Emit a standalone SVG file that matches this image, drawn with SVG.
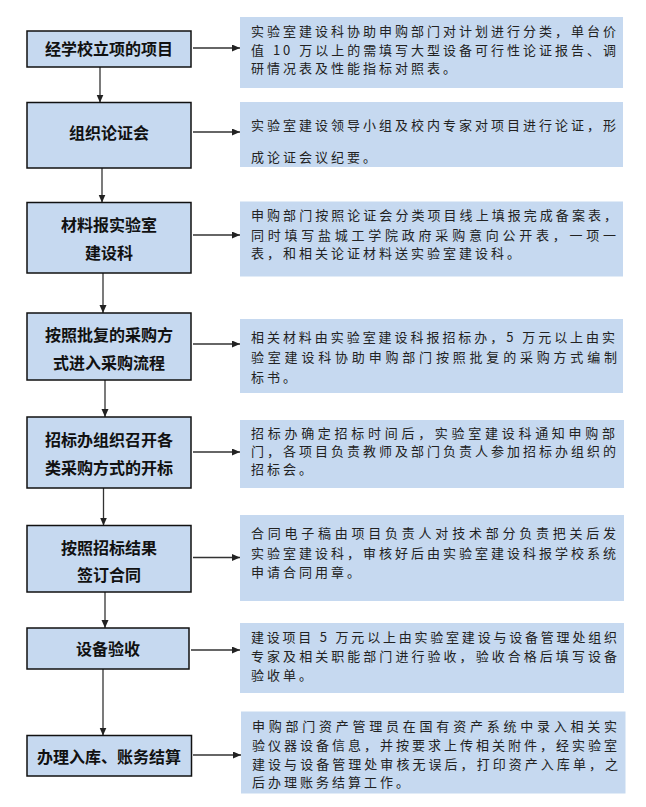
<svg xmlns="http://www.w3.org/2000/svg" width="646" height="807" viewBox="0 0 646 807">
<defs>
<marker id="ah" markerUnits="userSpaceOnUse" markerWidth="9" markerHeight="8" refX="8" refY="3.5" orient="auto">
<path d="M0,0 L8,3.5 L0,7 z" fill="#222"/>
</marker>
<style>
.lbox{fill:#C6D9F0;stroke:#111;stroke-width:1.5}
.rbox{fill:#C6D9F0}
.lt{font-family:"Noto Sans CJK SC","Noto Sans CJK TC",sans-serif;font-size:16px;font-weight:700;fill:#111;text-anchor:middle}
.rt{font-family:"Noto Sans CJK SC","Noto Sans CJK TC",sans-serif;font-size:13px;letter-spacing:3px;fill:#222}
.conn{stroke:#333;stroke-width:1.3;fill:none;marker-end:url(#ah)}
</style>
</defs>
<rect width="646" height="807" fill="#fff"/>

<g id="connectors">
<line class="conn" x1="100" y1="67" x2="100" y2="102.5"/>
<line class="conn" x1="102" y1="168" x2="102" y2="202.5"/>
<line class="conn" x1="103" y1="273" x2="103" y2="313"/>
<line class="conn" x1="105" y1="380" x2="105" y2="417"/>
<line class="conn" x1="103.5" y1="488" x2="103.5" y2="525.5"/>
<line class="conn" x1="105" y1="592" x2="105" y2="628"/>
<line class="conn" x1="103" y1="669" x2="103" y2="735.5"/>
<line class="conn" x1="193" y1="48" x2="240" y2="48"/>
<line class="conn" x1="193" y1="132" x2="240" y2="132"/>
<line class="conn" x1="193" y1="235" x2="240" y2="235"/>
<line class="conn" x1="193" y1="344" x2="240" y2="344"/>
<line class="conn" x1="193" y1="452" x2="240" y2="452"/>
<line class="conn" x1="193" y1="557.5" x2="240" y2="557.5"/>
<line class="conn" x1="191" y1="650" x2="240" y2="650"/>
<line class="conn" x1="193" y1="755" x2="241" y2="755"/>
</g>

<g id="step1">
<rect class="lbox" x="27" y="31" width="164" height="36"/>
<text class="lt" x="109" y="55">经学校立项的项目</text>
</g>
<g id="note1">
<rect class="rbox" x="240" y="17" width="383" height="71"/>
<text class="rt" x="251" y="36" textLength="368" lengthAdjust="spacing">实验室建设科协助申购部门对计划进行分类，单台价</text>
<text class="rt" x="251" y="54.5" textLength="368" lengthAdjust="spacing">值 10 万以上的需填写大型设备可行性论证报告、调</text>
<text class="rt" x="251" y="73">研情况表及性能指标对照表。</text>
</g>

<g id="step2">
<rect class="lbox" x="27" y="102.5" width="164" height="65.5"/>
<text class="lt" x="109" y="139">组织论证会</text>
</g>
<g id="note2">
<rect class="rbox" x="240" y="102" width="383" height="65"/>
<text class="rt" x="251" y="130" textLength="368" lengthAdjust="spacing">实验室建设领导小组及校内专家对项目进行论证，形</text>
<text class="rt" x="251" y="161.5">成论证会议纪要。</text>
</g>

<g id="step3">
<rect class="lbox" x="27" y="202.5" width="164" height="70.5"/>
<text class="lt" x="109" y="231">材料报实验室</text>
<text class="lt" x="109" y="259">建设科</text>
</g>
<g id="note3">
<rect class="rbox" x="240" y="201.5" width="383" height="75"/>
<text class="rt" x="251" y="220" textLength="369" lengthAdjust="spacing">申购部门按照论证会分类项目线上填报完成备案表，</text>
<text class="rt" x="251" y="240" textLength="368" lengthAdjust="spacing">同时填写盐城工学院政府采购意向公开表，一项一</text>
<text class="rt" x="251" y="258">表，和相关论证材料送实验室建设科。</text>
</g>

<g id="step4">
<rect class="lbox" x="27" y="313" width="164" height="67"/>
<text class="lt" x="109" y="341">按照批复的采购方</text>
<text class="lt" x="109" y="368.5">式进入采购流程</text>
</g>
<g id="note4">
<rect class="rbox" x="240" y="319" width="383" height="74"/>
<text class="rt" x="251" y="342" textLength="367" lengthAdjust="spacing">相关材料由实验室建设科报招标办，5 万元以上由实</text>
<text class="rt" x="251" y="362" textLength="369" lengthAdjust="spacing">验室建设科协助申购部门按照批复的采购方式编制</text>
<text class="rt" x="251" y="382">标书。</text>
</g>

<g id="step5">
<rect class="lbox" x="27" y="417" width="164" height="71"/>
<text class="lt" x="109" y="446">招标办组织召开各</text>
<text class="lt" x="109" y="474">类采购方式的开标</text>
</g>
<g id="note5">
<rect class="rbox" x="240" y="420" width="384" height="68"/>
<text class="rt" x="251" y="438" textLength="367" lengthAdjust="spacing">招标办确定招标时间后，实验室建设科通知申购部</text>
<text class="rt" x="251" y="456" textLength="368" lengthAdjust="spacing">门，各项目负责教师及部门负责人参加招标办组织的</text>
<text class="rt" x="251" y="474">招标会。</text>
</g>

<g id="step6">
<rect class="lbox" x="27" y="525.5" width="164" height="66.5"/>
<text class="lt" x="109" y="553.5">按照招标结果</text>
<text class="lt" x="109" y="581">签订合同</text>
</g>
<g id="note6">
<rect class="rbox" x="240" y="515" width="384" height="86"/>
<text class="rt" x="251" y="538" textLength="368" lengthAdjust="spacing">合同电子稿由项目负责人对技术部分负责把关后发</text>
<text class="rt" x="251" y="557.5" textLength="368" lengthAdjust="spacing">实验室建设科，审核好后由实验室建设科报学校系统</text>
<text class="rt" x="251" y="577">申请合同用章。</text>
</g>

<g id="step7">
<rect class="lbox" x="27" y="628" width="162" height="41"/>
<text class="lt" x="108" y="655">设备验收</text>
</g>
<g id="note7">
<rect class="rbox" x="240" y="623" width="384" height="70"/>
<text class="rt" x="251" y="642" textLength="369" lengthAdjust="spacing">建设项目 5 万元以上由实验室建设与设备管理处组织</text>
<text class="rt" x="251" y="661" textLength="369" lengthAdjust="spacing">专家及相关职能部门进行验收，验收合格后填写设备</text>
<text class="rt" x="251" y="680">验收单。</text>
</g>

<g id="step8">
<rect class="lbox" x="27" y="735.5" width="164.5" height="40.5"/>
<text class="lt" x="109" y="762.5">办理入库、账务结算</text>
</g>
<g id="note8">
<rect class="rbox" x="241" y="711.5" width="384.5" height="82"/>
<text class="rt" x="252" y="731" textLength="368" lengthAdjust="spacing">申购部门资产管理员在国有资产系统中录入相关实</text>
<text class="rt" x="252" y="750" textLength="368" lengthAdjust="spacing">验仪器设备信息，并按要求上传相关附件，经实验室</text>
<text class="rt" x="252" y="768.5" textLength="369" lengthAdjust="spacing">建设与设备管理处审核无误后，打印资产入库单，之</text>
<text class="rt" x="252" y="787">后办理账务结算工作。</text>
</g>
</svg>
